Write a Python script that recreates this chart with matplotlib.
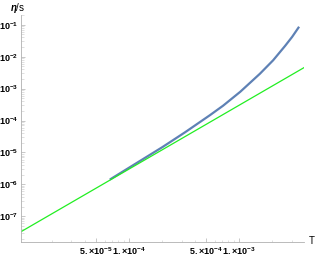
import numpy as np
import matplotlib.pyplot as plt
from matplotlib.ticker import FixedLocator, NullFormatter

plt.rcParams['font.family'] = ['Liberation Sans', 'DejaVu Sans']
plt.rcParams['mathtext.fontset'] = 'custom'
plt.rcParams['mathtext.rm'] = 'Liberation Sans:bold'
plt.rcParams['mathtext.it'] = 'Liberation Sans:italic:bold'

# blue curve
T_blue = [6.7e-5, 1e-4, 2e-4, 3e-4, 5e-4, 7e-4, 1e-3, 1.5e-3, 2e-3, 2.5e-3, 3e-3, 3.5e-3]
eta_blue = [1.41e-6, 3.3e-6, 1.45e-5, 3.6e-5, 1.2e-4, 2.75e-4, 7.4e-4, 2.65e-3, 7.2e-3, 1.8e-2, 4.0e-2, 8.7e-2]

# green reference line, eta/s ~ T^2
T_green = [1.05e-5, 3.9e-3]
eta_green = [3.3e-8, 4.6e-3]

xticks = [5e-5, 1e-4, 5e-4, 1e-3]
xlabels = [r'$5.{\times}10^{-5}$', r'$1.{\times}10^{-4}$', r'$5.{\times}10^{-4}$', r'$1.{\times}10^{-3}$']
yticks = [1e-7, 1e-6, 1e-5, 1e-4, 1e-3, 1e-2, 1e-1]

fig = plt.figure(figsize=(3.16, 2.57), dpi=100)
ax = fig.add_axes([0.0665, 0.058, 0.896, 0.884])

# draw the blue curve through many points in log space
lt = np.log10(T_blue)
le = np.log10(eta_blue)
lt_f = np.linspace(lt[0], lt[-1], 300)
le_f = np.interp(lt_f, lt, le)
ax.plot(10**lt_f, 10**le_f, color='#5E81B5', lw=1.6, solid_capstyle='butt')
ax.plot(T_green, eta_green, color='#22EE22', lw=0.9)

ax.set_xscale('log')
ax.set_yscale('log')
ax.set_xlim(10**-4.98, 10**-2.41)
ax.set_ylim(10**-7.81, 10**-0.69)

for s in ['top', 'right']:
    ax.spines[s].set_visible(False)
for s in ['left', 'bottom']:
    ax.spines[s].set_color('#b0b0b0')
    ax.spines[s].set_linewidth(0.6)

ax.xaxis.set_major_locator(FixedLocator(xticks))
ax.set_xticklabels(xlabels)
minor_x = [m * 10.0**e for e in range(-5, -1) for m in range(1, 10)]
minor_x = [v for v in minor_x if v not in xticks]
ax.xaxis.set_minor_locator(FixedLocator(minor_x))
ax.xaxis.set_minor_formatter(NullFormatter())

ax.yaxis.set_major_locator(FixedLocator(yticks))
ax.set_yticklabels([r'$10^{%d}$' % int(np.log10(v)) for v in yticks])
minor_y = [m * 10.0**e for e in range(-8, 0) for m in range(2, 10)]
ax.yaxis.set_minor_locator(FixedLocator(minor_y))
ax.yaxis.set_minor_formatter(NullFormatter())

ax.tick_params(which='major', direction='in', length=3, width=0.5, color='#b0b0b0',
               labelsize=6.5, pad=2)
ax.tick_params(which='minor', direction='in', length=1.8, width=0.4, color='#c8c8c8')

fig.text(312/316, 1 - 241/257, 'T', fontsize=7, ha='center', va='center')
fig.text(18/316, 1 - 8/257, r'$\eta$/s', fontsize=7, ha='center', va='center')

plt.savefig('out.png', dpi=100)
